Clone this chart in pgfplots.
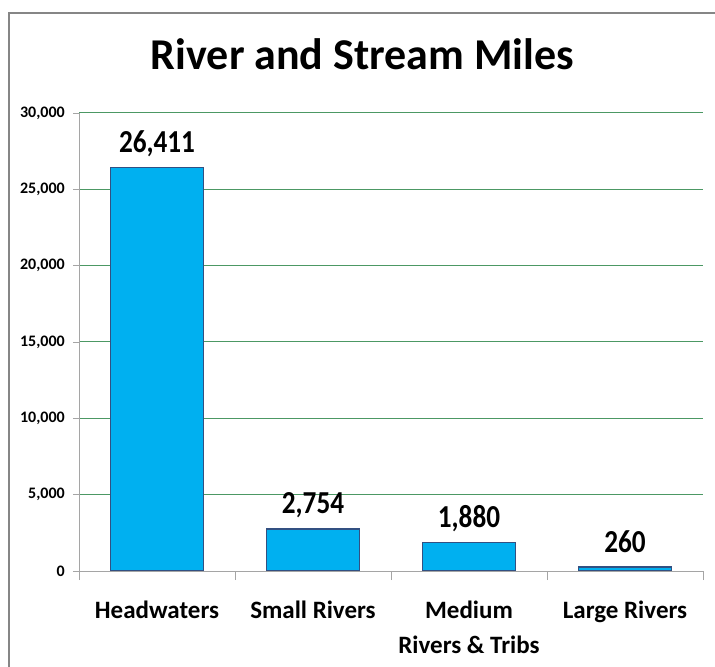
\documentclass[border=0pt]{standalone}
\usepackage{fontspec}
\setmainfont{Carlito}
\newfontfamily\condfont[FakeStretch=0.85]{Carlito}
\usepackage{pgfplots}
\pgfplotsset{compat=1.18}
\definecolor{barfill}{RGB}{0,176,240}
\definecolor{barline}{RGB}{50,80,130}
\definecolor{gridg}{RGB}{76,152,100}
\definecolor{axgray}{RGB}{165,165,165}
\definecolor{framegray}{RGB}{134,134,134}
\begin{document}
\begin{tikzpicture}
\path[use as bounding box] (0,0) rectangle (715bp,667bp);
\draw[framegray, line width=1.5bp] (9bp,0) -- (9bp,654bp) -- (715bp,654bp);
\node[anchor=base, inner sep=0pt, font=\fontsize{44bp}{50bp}\selectfont\bfseries] at (362.5bp,597bp) {River and Stream Miles};
\begin{axis}[
  at={(79bp,96bp)}, anchor=south west,
  scale only axis, width=624bp, height=458bp,
  xmin=-0.5, xmax=3.5, ymin=0, ymax=30000,
  axis x line*=bottom, axis y line*=left,
  axis line style={axgray, line width=0.8bp, -},
  ytick={0,5000,...,30000},
  scaled y ticks=false,
  ymajorgrids, grid style={gridg, line width=1bp},
  tick align=outside,
  major tick length=6bp, minor tick length=9bp,
  tick style={axgray, line width=0.8bp},
  xtick={0,1,2,3},
  major x tick style={draw=none},
  minor xtick={-0.5,0.5,1.5,2.5,3.5},
  xticklabels={Headwaters, Small Rivers, {Medium\\Rivers \& Tribs}, Large Rivers},
  xticklabel style={font=\fontsize{25bp}{35bp}\selectfont\bfseries, align=center, anchor=north, inner sep=0pt, yshift=-24bp},
  yticklabel style={font=\fontsize{16bp}{19bp}\selectfont\bfseries, anchor=east, inner sep=0pt, xshift=-8bp},
  /pgf/number format/.cd, 1000 sep={,}, assume math mode=true,
  /pgfplots/.cd,
  ybar, bar width=93bp,
  nodes near coords,
  every node near coord/.append style={font=\condfont\fontsize{32bp}{36bp}\selectfont\bfseries, anchor=base, inner sep=0pt, yshift=15bp, black},
]
\addplot[fill=barfill, draw=barline, line width=1.2bp] coordinates {(0,26411) (1,2754) (2,1880) (3,260)};
\end{axis}
\end{tikzpicture}
\end{document}
